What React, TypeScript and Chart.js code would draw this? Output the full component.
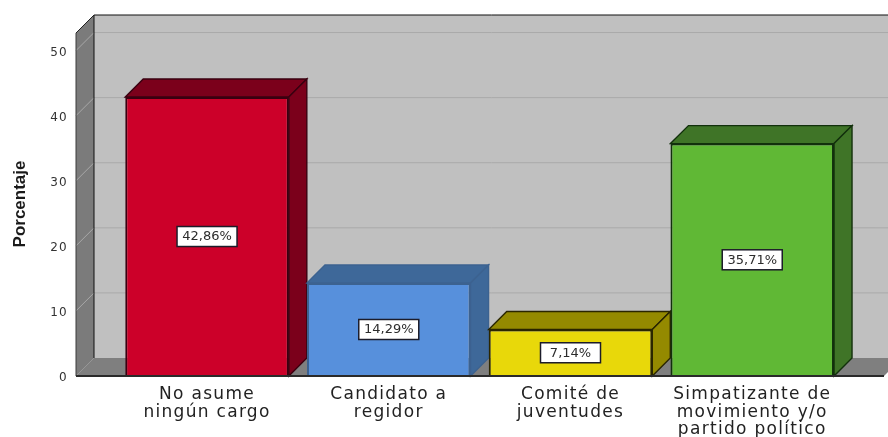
import React, { useEffect, useRef } from "react";
import { Chart, registerables } from "chart.js";

Chart.register(...registerables);

const categories: string[][] = [
  ["No asume", "ningún cargo"],
  ["Candidato a", "regidor"],
  ["Comité de", "juventudes"],
  ["Simpatizante de", "movimiento y/o", "partido político"],
];
const values = [42.86, 14.29, 7.14, 35.71];
const frontColors = ["#cc0029", "#5790dc", "#e8d80a", "#60b835"];
const sideColors = ["#7b001b", "#3e6899", "#948a00", "#3f7427"];
const edgeColors = ["#3a0010", "#3c6290", "#2a2600", "#12300c"];
const yTicks = [0, 10, 20, 30, 40, 50];
const yMax = 52.7;
const xMin = -0.721;
const xMax = 3.725;
const depth = 18;

const poly = (ctx: CanvasRenderingContext2D, pts: number[][], fill?: string, stroke?: string, lw = 1) => {
  ctx.beginPath();
  pts.forEach((p, i) => (i ? ctx.lineTo(p[0], p[1]) : ctx.moveTo(p[0], p[1])));
  ctx.closePath();
  if (fill) {
    ctx.fillStyle = fill;
    ctx.fill();
  }
  if (stroke) {
    ctx.strokeStyle = stroke;
    ctx.lineWidth = lw;
    ctx.stroke();
  }
};
const line = (ctx: CanvasRenderingContext2D, x0: number, y0: number, x1: number, y1: number, c: string, lw = 1) => {
  ctx.beginPath();
  ctx.moveTo(x0, y0);
  ctx.lineTo(x1, y1);
  ctx.strokeStyle = c;
  ctx.lineWidth = lw;
  ctx.stroke();
};

const box3d = {
  id: "box3d",
  beforeDraw(chart: any) {
    // the reference's axis text is horizontally stretched
    chart.ctx.letterSpacing = "1.3px";
  },
  beforeDatasetsDraw(chart: any) {
    const { ctx, chartArea: a, scales } = chart;
    ctx.letterSpacing = "0px";
    const y = scales.y;
    const d = depth;
    ctx.save();
    // back wall
    poly(ctx, [[a.left + d, a.top - d], [a.right + d, a.top - d], [a.right + d, a.bottom - d], [a.left + d, a.bottom - d]], "#c0c0c0");
    // left wall
    poly(ctx, [[a.left, a.top], [a.left + d, a.top - d], [a.left + d, a.bottom - d], [a.left, a.bottom]], "#7b7b7b");
    // floor
    poly(ctx, [[a.left, a.bottom], [a.left + d, a.bottom - d], [a.right + d, a.bottom - d], [a.right, a.bottom]], "#7f7f7f");
    // grid lines
    yTicks.forEach((t) => {
      if (t === 0) return;
      const py = y.getPixelForValue(t);
      line(ctx, a.left, py, a.left + d, py - d, "#a8a8a8");
      line(ctx, a.left + d, py - d, a.right + d, py - d, "#a9a9a9");
    });
    line(ctx, a.left, a.bottom, a.left + d, a.bottom - d, "#969696");
    // frame
    line(ctx, a.left + d, a.top - d, a.left + d, a.bottom - d, "#111111");
    line(ctx, a.left + d, a.top - d, a.right + d, a.top - d, "#111111");
    line(ctx, a.left, a.top, a.left + d, a.top - d, "#222222");
    line(ctx, a.left, a.top, a.left, a.bottom, "#3c3c3c");
    // bar top and side faces
    chart.getDatasetMeta(0).data.forEach((bar: any, i: number) => {
      const { x, y: top, base, width } = bar.getProps(["x", "y", "base", "width"], true);
      const l = x - width / 2;
      const r = x + width / 2;
      poly(ctx, [[l, top], [l + d, top - d], [r + d, top - d], [r, top]], sideColors[i], edgeColors[i], 1.4);
      poly(ctx, [[r, top], [r + d, top - d], [r + d, base - d], [r, base]], sideColors[i], edgeColors[i], 1.4);
    });
    ctx.restore();
  },
  afterDatasetsDraw(chart: any) {
    const { ctx, chartArea: a } = chart;
    ctx.save();
    // front baseline
    line(ctx, a.left, a.bottom, a.right, a.bottom, "#2a2a2a", 2);
    // value labels
    ctx.font = '13px "DejaVu Sans"';
    ctx.textAlign = "center";
    ctx.textBaseline = "middle";
    chart.getDatasetMeta(0).data.forEach((bar: any, i: number) => {
      const { x, y: top, base } = bar.getProps(["x", "y", "base"], true);
      const cy = (top + base) / 2;
      const label = values[i].toFixed(2).replace(".", ",") + "%";
      ctx.fillStyle = "#ffffff";
      ctx.strokeStyle = "#1c1c2a";
      ctx.lineWidth = 1.5;
      ctx.fillRect(x - 30, cy - 10, 60, 20);
      ctx.strokeRect(x - 30, cy - 10, 60, 20);
      ctx.fillStyle = "#2c2c2c";
      ctx.fillText(label, x, cy + 0.5);
    });
    // axis title
    ctx.translate(20, 204);
    ctx.rotate(-Math.PI / 2);
    ctx.font = 'bold 17px "Liberation Sans"';
    ctx.fillStyle = "#1a1a1a";
    ctx.fillText("Porcentaje", 0, 0);
    ctx.restore();
  },
};

export default function App() {
  const ref = useRef<HTMLCanvasElement>(null);
  useEffect(() => {
    const chart = new Chart(ref.current as HTMLCanvasElement, {
      type: "bar",
      data: {
        datasets: [
          {
            data: values.map((v, i) => ({ x: i, y: v })),
            backgroundColor: frontColors,
            borderColor: edgeColors,
            borderWidth: 2,
            barPercentage: 0.9,
            categoryPercentage: 1,
          },
        ],
      },
      options: {
        animation: false,
        responsive: false,
        layout: { padding: { top: 33, right: 4, left: 0, bottom: 0 } },
        plugins: { legend: { display: false }, tooltip: { enabled: false } },
        scales: {
          x: {
            type: "linear",
            offset: false,
            min: xMin,
            max: xMax,
            grid: { display: false, drawTicks: false },
            border: { display: false },
            afterBuildTicks: (s: any) => {
              s.ticks = categories.map((_, i) => ({ value: i }));
            },
            afterFit: (s: any) => {
              s.height = 61;
            },
            ticks: {
              autoSkip: false,
              maxRotation: 0,
              minRotation: 0,
              padding: 10,
              color: "#222222",
              font: { family: '"DejaVu Sans"', size: 17, lineHeight: 1.03 },
              callback: (v: any) => categories[v] ?? "",
            },
          },
          y: {
            type: "linear",
            min: 0,
            max: yMax,
            grid: { display: false, drawTicks: false },
            border: { display: false },
            afterBuildTicks: (s: any) => {
              s.ticks = yTicks.map((v) => ({ value: v }));
            },
            afterFit: (s: any) => {
              s.width = 76;
            },
            ticks: {
              padding: 8,
              labelOffset: 2,
              color: "#333333",
              font: { family: '"DejaVu Sans"', size: 12 },
              callback: (v: any) => String(v),
            },
          },
        },
      },
      plugins: [box3d],
    } as any);
    return () => chart.destroy();
  }, []);
  return (
    <div style={{ position: "fixed", left: 0, top: 0, width: 888, height: 437, background: "#fff" }}>
      <canvas ref={ref} width={888} height={437} style={{ display: "block" }} />
    </div>
  );
}
